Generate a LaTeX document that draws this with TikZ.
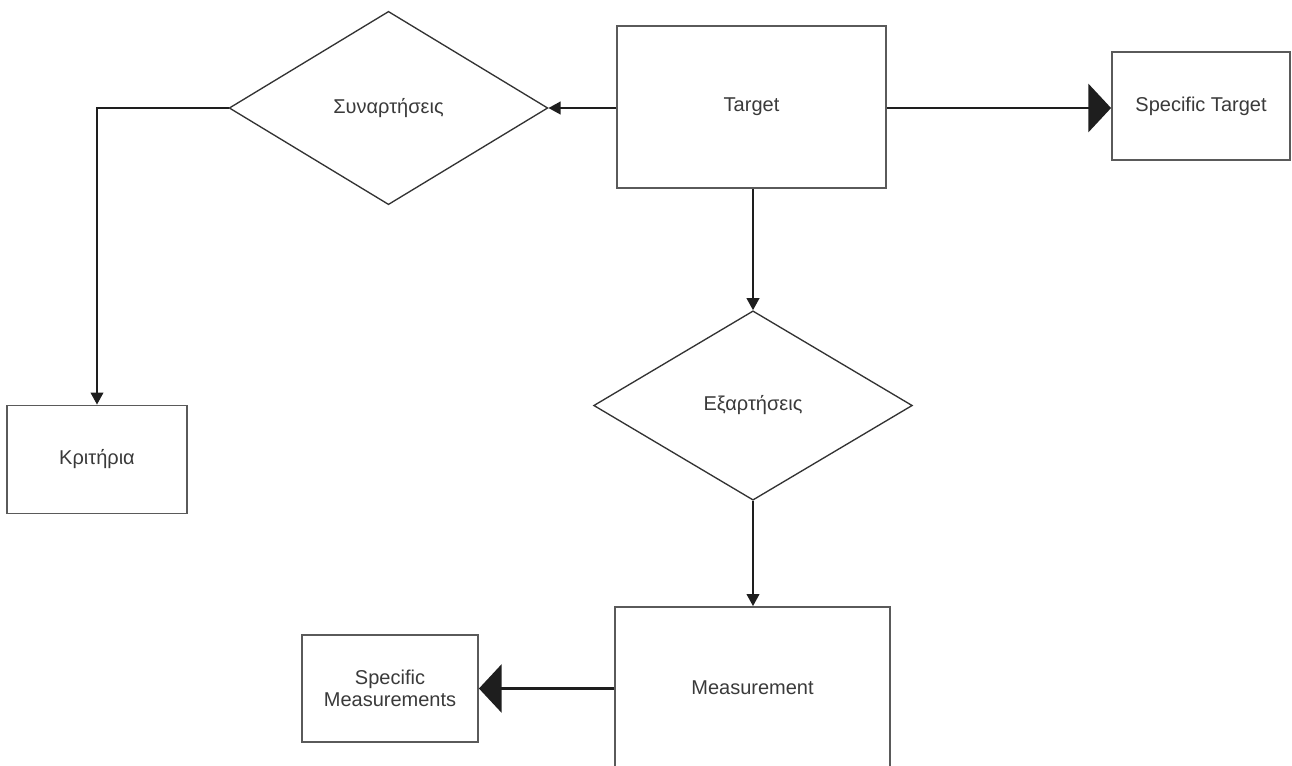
\documentclass[tikz,border=0pt]{standalone}
\usepackage{fontspec}
\setmainfont{Liberation Sans}
\usetikzlibrary{shapes.geometric,arrows.meta}
\definecolor{boxline}{HTML}{5A5A5A}
\definecolor{dialine}{HTML}{333333}
\definecolor{wire}{HTML}{1E1E1E}
\definecolor{label}{HTML}{3A3A3A}
\tikzset{
  every node/.style={font=\fontsize{15}{18}\selectfont, text=label},
  box/.style={rectangle, draw=boxline, line width=1.4pt, inner sep=0pt},
  choice/.style={diamond, draw=dialine, line width=1pt, inner sep=0pt},
  link/.style={draw=wire, line width=1.3pt, -{Triangle[length=9pt,width=9.5pt]}},
  biglink/.style={draw=wire, line width=2.2pt, -{Triangle[length=17pt,width=36pt]}},
}
\begin{document}
\begin{tikzpicture}[x=0.75pt,y=-0.75pt]
  \useasboundingbox (0,0) rectangle (1292,765);
  \clip (0,0) rectangle (1292,765);
  \fill[white] (0,0) rectangle (1292,765);

  % decision shapes
  \node[choice, minimum width=239pt, minimum height=145pt] (func) at (388.5,108) {Συναρτήσεις};
  \node[choice, minimum width=239pt, minimum height=142pt] (dep) at (753,405.5) {Εξαρτήσεις};

  % boxes
  \node[box, minimum width=201.75pt, minimum height=121.5pt] (target) at (751.5,107) {Target};
  \node[box, minimum width=133.5pt, minimum height=81pt] (spectarget) at (1201,106) {Specific Target};
  \node[box, minimum width=135pt, minimum height=81pt] (crit) at (97,459.5) {Κριτήρια};
  \node[box, minimum width=132pt, minimum height=80.25pt, align=center] (specmeas) at (390,688.5) {Specific\\[-1pt]Measurements};
  \node[box, minimum width=206.25pt, minimum height=121.5pt] (meas) at (752.5,688) {Measurement};

  % connectors
  \draw[link] (target.west |- func.east) -- (func.east);
  \draw[link] (func.west) -| (crit.north);
  \draw[biglink] (target.east |- func.east) -- (target.east |- func.east -| spectarget.west);
  \draw[link] (target.south -| dep.north) -- (dep.north);
  \draw[link] (dep.south) -- (dep.south |- meas.north);
  \draw[biglink] (meas.west |- specmeas.east) -- (specmeas.east);
\end{tikzpicture}
\end{document}
